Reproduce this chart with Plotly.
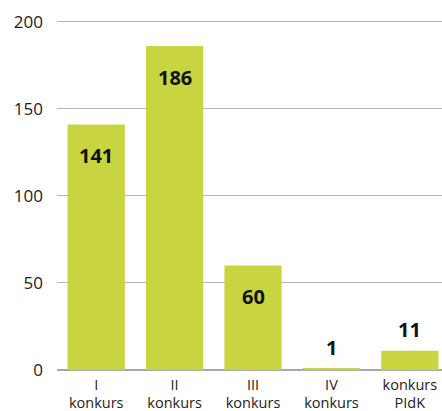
import plotly.graph_objects as go

categories = ["I<br>konkurs", "II<br>konkurs", "III<br>konkurs", "IV<br>konkurs", "konkurs<br>PIdK"]
values = [141, 186, 60, 1, 11]
inside = [True, True, True, False, False]

bar_color = "#c9d540"

fig = go.Figure()
fig.add_trace(go.Bar(x=categories, y=values, marker_color=bar_color, marker_line_width=0,
                     hoverinfo="skip"))

for c, v, ins in zip(categories, values, inside):
    fig.add_annotation(x=c, y=v, text=f"<b>{v}</b>", showarrow=False,
                       yanchor="middle", yshift=-31 if ins else 21,
                       font=dict(family="Open Sans", size=20, color="#111111"))

fig.update_layout(
    width=442, height=411,
    margin=dict(l=57, r=0, t=20, b=41, autoexpand=False),
    plot_bgcolor="white", paper_bgcolor="white",
    bargap=0.27,
    showlegend=False,
    font=dict(family="Open Sans", size=15, color="#222222"),
)
fig.update_xaxes(range=[-0.5, 4.41], showgrid=False, ticks="", showline=False,
                 tickfont=dict(size=14.5, color="#222222"), ticklabelstandoff=4,
                 automargin=False)
fig.update_yaxes(range=[0, 201], tickvals=[0, 50, 100, 150, 200], showgrid=True,
                 gridcolor="#b5b5b5", gridwidth=1, zeroline=True, zerolinecolor="#a8a8a8",
                 zerolinewidth=1.5, tickfont=dict(size=17, color="#222222"),
                 ticklabelstandoff=13, automargin=False)

fig.write_html("out.html", config={"displayModeBar": False},
               post_script="document.body.style.margin='0';document.body.style.overflow='hidden';")
